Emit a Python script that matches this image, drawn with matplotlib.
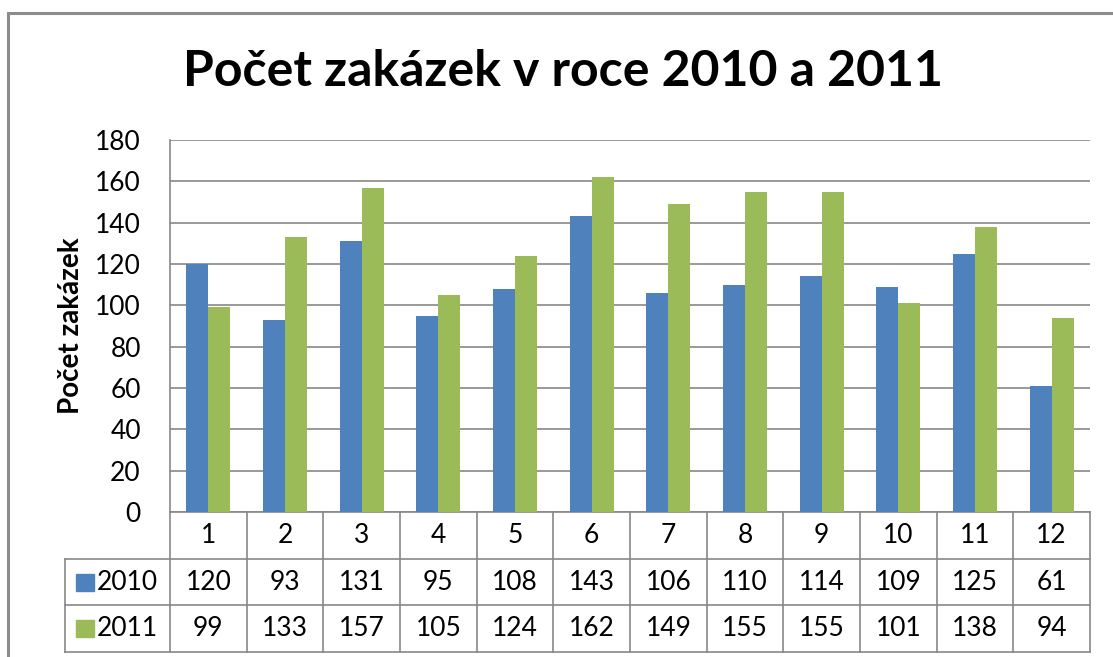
import matplotlib.pyplot as plt
from matplotlib.patches import Rectangle

plt.rcParams["font.family"] = ["Lato", "DejaVu Sans"]

months = [str(m) for m in range(1, 13)]
series_names = ["2010", "2011"]
v2010 = [120, 93, 131, 95, 108, 143, 106, 110, 114, 109, 125, 61]
v2011 = [99, 133, 157, 105, 124, 162, 149, 155, 155, 101, 138, 94]
colors = ["#4F81BD", "#9BBB59"]
yticks = list(range(0, 181, 20))

W, H = 1113, 657
fig = plt.figure(figsize=(W / 100, H / 100), dpi=100)
grid_c = "#888888"

# outer chart frame (runs off the right/bottom edge like the screenshot)
fig.patches.append(Rectangle((8 / W, -0.1), 1.2, 1 - 13 / H + 0.1,
                             transform=fig.transFigure, fill=False,
                             edgecolor="#8c8c8c", lw=2.2))

ax = fig.add_axes([170 / W, 1 - 512 / H, 920 / W, 372 / H])
n = len(months)
bw = 1 / 3.5
x = list(range(n))
ax.bar([i - bw / 2 for i in x], v2010, bw, color=colors[0], zorder=3)
ax.bar([i + bw / 2 for i in x], v2011, bw, color=colors[1], zorder=3)
ax.set_xlim(-0.5, n - 0.5)
ax.set_ylim(0, 180)
ax.set_yticks(yticks)
ax.set_xticks([])
ax.tick_params(axis="y", length=0, pad=21, labelsize=19)
ax.yaxis.grid(True, color=grid_c, lw=1.2, zorder=0)
for s in ["top", "right"]:
    ax.spines[s].set_visible(False)
ax.spines["left"].set_color(grid_c)
ax.spines["bottom"].set_color(grid_c)
ax.spines["left"].set_linewidth(1.2)
ax.spines["bottom"].set_linewidth(1.2)
ax.set_ylabel("Počet zakázek", fontsize=20, fontweight="bold", labelpad=8)

fig.text(563 / W, 1 - 72 / H, "Počet zakázek v roce 2010 a 2011",
         ha="center", va="center", fontsize=36, fontweight="bold")

# data table under the axis
t = ax.transAxes
rh = 46.7 / 372
hx = -105 / 920
kw = dict(transform=t, color=grid_c, lw=1.2, clip_on=False)
for i in range(n + 1):
    ax.plot([i / n, i / n], [0, -3 * rh], **kw)
for k in (1, 2, 3):
    ax.plot([hx, 1], [-k * rh, -k * rh], **kw)
ax.plot([hx, hx], [-rh, -3 * rh], **kw)

for i, m in enumerate(months):
    cx = (i + 0.5) / n
    ax.text(cx, -0.5 * rh, m, transform=t, ha="center", va="center", fontsize=19)
    ax.text(cx, -1.5 * rh, str(v2010[i]), transform=t, ha="center", va="center", fontsize=19)
    ax.text(cx, -2.5 * rh, str(v2011[i]), transform=t, ha="center", va="center", fontsize=19)

for r, (name, c) in enumerate(zip(series_names, colors)):
    cy = -(r + 1.5) * rh
    ax.add_patch(Rectangle((hx + 11 / 920, cy - 8.5 / 372), 18 / 920, 17 / 372,
                           transform=t, color=c, clip_on=False))
    ax.text(hx + 32 / 920, cy, name, transform=t, ha="left", va="center", fontsize=19)

fig.savefig("out.png", dpi=100)
